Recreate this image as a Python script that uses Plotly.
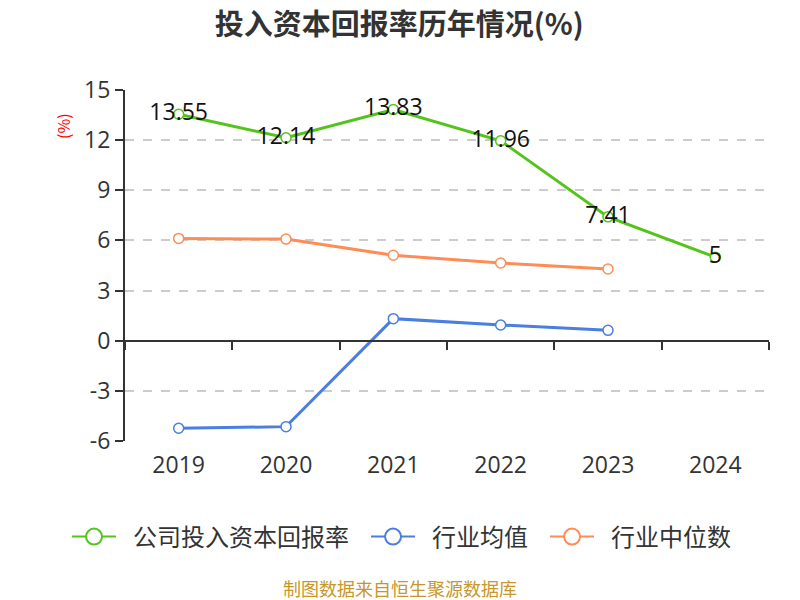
import plotly.graph_objects as go

years = ["2019", "2020", "2021", "2022", "2023", "2024"]
company = [13.55, 12.14, 13.83, 11.96, 7.41, 5]
ind_mean = [-5.24, -5.14, 1.32, 0.94, 0.62]
ind_median = [6.12, 6.08, 5.11, 4.65, 4.29]
y_ticks = [-6, -3, 0, 3, 6, 9, 12, 15]
y_ticktext = ["-6", "-3", "0", "3", "6", "9", "12", "15"]

x_idx = list(range(len(years)))
NUM_FONT = "Open Sans, Noto Sans CJK SC"
CJK_FONT = "Noto Sans CJK SC"

series = [
    ("公司投入资本回报率", company, "#52c41a", True),
    ("行业均值", ind_mean, "#4a7ee0", False),
    ("行业中位数", ind_median, "#ff8c55", False),
]

fig = go.Figure()
for name, vals, color, labels in series:
    fig.add_trace(go.Scatter(
        x=x_idx[:len(vals)], y=vals, name=name, showlegend=False,
        mode="lines+markers+text" if labels else "lines+markers",
        line=dict(color=color, width=3),
        marker=dict(symbol="circle", size=10, color="white", line=dict(color=color, width=1.5)),
        text=[str(v) for v in vals] if labels else None, textposition="middle center",
        textfont=dict(size=23, color="#111", family=NUM_FONT),
    ))
for name, vals, color, labels in series:
    fig.add_trace(go.Scatter(
        x=[None], y=[None], name="\u2002" + name + "\u2002", mode="lines+markers",
        line=dict(color=color, width=2),
        marker=dict(symbol="circle", size=20, color="white", line=dict(color=color, width=2)),
    ))
# invisible trace for the zero-line axis with boundary ticks
fig.add_trace(go.Scatter(x=[-0.5, 5.5], y=[0, 0], xaxis="x2", mode="lines",
                         line=dict(width=0), showlegend=False, hoverinfo="skip"))

ymin, ymax = -6, 15
fig.update_layout(
    width=800, height=600,
    paper_bgcolor="white", plot_bgcolor="white",
    margin=dict(l=117, r=39, t=82, b=167),
    font=dict(family=NUM_FONT, color="#333"),
    title=dict(text="<b>投入资本回报率历年情况(%)</b>", x=0.489, xanchor="center",
               y=0.972, yanchor="middle", font=dict(size=29, color="#333", family=CJK_FONT)),
    xaxis=dict(range=[-0.5, 5.5], tickvals=x_idx, ticktext=years, showline=False,
               showgrid=False, zeroline=False, ticks="", tickfont=dict(size=23, color="#333"),
               ticklabelstandoff=8),
    xaxis2=dict(range=[-0.5, 5.5], overlaying="x", anchor="free", position=(0 - ymin) / (ymax - ymin),
                showline=True, linecolor="#333", linewidth=2, ticks="outside", ticklen=8,
                tickwidth=2, tickcolor="#333", tickvals=[i - 0.5 for i in range(len(years) + 1)],
                showticklabels=False, showgrid=False, zeroline=False),
    yaxis=dict(range=[ymin, ymax], tickvals=y_ticks, ticktext=y_ticktext,
               showline=True, linecolor="#333", linewidth=2,
               ticks="outside", ticklen=8, tickwidth=2, tickcolor="#333",
               showgrid=True, gridcolor="#cccccc", griddash="dash", gridwidth=1.5,
               zeroline=False, tickfont=dict(size=23, color="#333")),
    legend=dict(orientation="h", x=-0.09, xanchor="left", y=-0.2735, yanchor="middle",
                font=dict(size=24, color="#333", family=CJK_FONT), itemwidth=44),
    annotations=[
        dict(text="(%)", xref="paper", yref="paper", x=-0.0955, y=0.899, showarrow=False,
             xanchor="center", yanchor="middle",
             textangle=-90, font=dict(size=16, color="red", family=CJK_FONT)),
        dict(text="制图数据来自恒生聚源数据库", xref="paper", yref="paper", x=0.427,
             y=-0.419, xanchor="center", yanchor="middle", showarrow=False,
             font=dict(size=18, color="#c8962a", family=CJK_FONT)),
    ],
)
fig.write_html("out.html")
